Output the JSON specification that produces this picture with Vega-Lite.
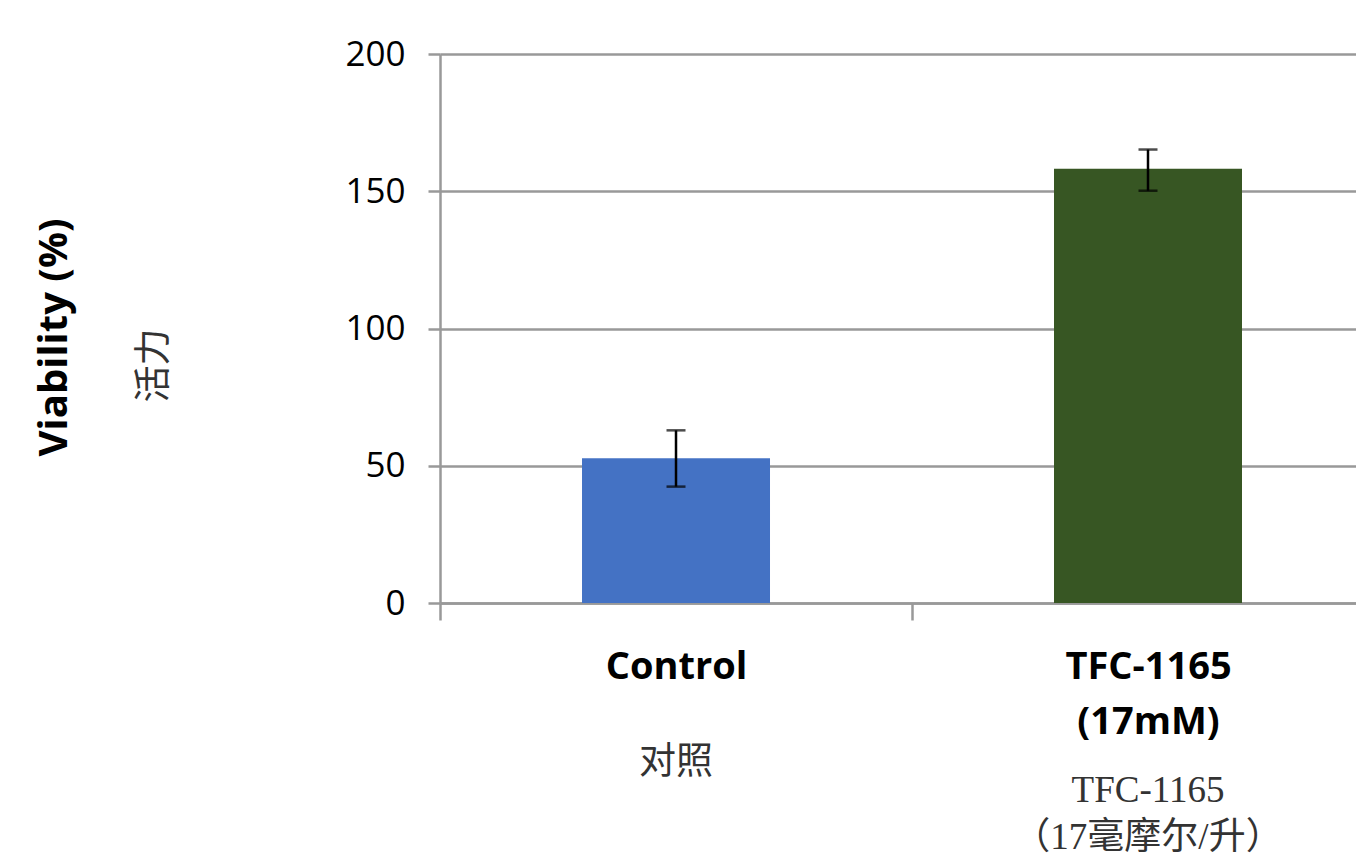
{
  "$schema": "https://vega.github.io/schema/vega-lite/v6.json",
  "width": 916,
  "height": 549,
  "autosize": "none",
  "padding": {"left": 440, "top": 54, "right": 0, "bottom": 251},
  "background": "white",
  "config": {"view": {"stroke": null}},
  "data": {
    "values": [
      {"group": "Control", "value": 52.7, "lo": 42.4, "hi": 62.9},
      {"group": "TFC-1165 (17mM)", "value": 158.2, "lo": 150.2, "hi": 165.2}
    ]
  },
  "encoding": {
    "x": {
      "field": "group",
      "type": "nominal",
      "sort": null,
      "scale": {"paddingInner": 0.6017, "paddingOuter": 0.2712, "align": 0.5547}
    }
  },
  "layer": [
    {
      "mark": {"type": "bar"},
      "encoding": {
        "x": {
          "field": "group",
          "type": "nominal",
          "sort": null,
          "axis": {
            "orient": "bottom",
            "title": null,
            "domainColor": "#999999",
            "domainWidth": 2.5,
            "tickOffset": -236,
            "labelOffset": 236,
            "tickColor": "#999999",
            "tickWidth": 2.5,
            "tickSize": 17,
            "labelFont": "Open Sans",
            "labelFontWeight": "bold",
            "labelFontSize": 38,
            "labelColor": "black",
            "labelPadding": 28,
            "labelAngle": 0,
            "labelLimit": 0,
            "labelLineHeight": 55,
            "labelExpr": "datum.value == 'Control' ? 'Control' : ['TFC-1165', '(17mM)']"
          }
        },
        "y": {
          "field": "value",
          "type": "quantitative",
          "scale": {"domain": [0, 200], "nice": false},
          "axis": {
            "orient": "left",
            "values": [0, 50, 100, 150, 200],
            "grid": true,
            "gridColor": "#999999",
            "gridWidth": 2.5,
            "domainColor": "#999999",
            "domainWidth": 2.5,
            "tickColor": "#999999",
            "tickWidth": 2.5,
            "tickSize": 12,
            "labelFont": "Open Sans",
            "labelFontSize": 35,
            "labelColor": "black",
            "labelPadding": 23,
            "title": "Viability (%)",
            "titleFont": "Open Sans",
            "titleFontSize": 40,
            "titleFontWeight": "bold",
            "titleColor": "black",
            "titleX": -366,
            "titleY": 283
          }
        },
        "color": {
          "field": "group",
          "type": "nominal",
          "scale": {"domain": ["Control", "TFC-1165 (17mM)"], "range": ["#4472c4", "#375623"]},
          "legend": null
        }
      }
    },
    {
      "mark": {"type": "rule", "color": "black", "strokeWidth": 2.5},
      "encoding": {
        "x": {
          "field": "group",
          "type": "nominal",
          "sort": null,
          "axis": {
            "orient": "bottom",
            "title": null,
            "domain": false,
            "ticks": false,
            "grid": false,
            "labelAngle": 0,
            "labelLimit": 0,
            "labelFont": "Noto Sans CJK SC",
            "labelFontSize": 37,
            "labelColor": "#333333",
            "labelPadding": 141,
            "labelExpr": "datum.value == 'Control' ? '对照' : ''"
          }
        },
        "y": {
          "field": "lo",
          "type": "quantitative",
          "axis": {
            "orient": "left",
            "title": "活力",
            "titleFont": "Noto Sans CJK SC",
            "titleFontSize": 37,
            "titleFontWeight": "normal",
            "titleColor": "#333333",
            "labels": false,
            "ticks": false,
            "domain": false,
            "grid": false,
            "titleX": -267,
            "titleY": 311
          }
        },
        "y2": {"field": "hi"}
      }
    },
    {
      "mark": {"type": "tick", "color": "black", "size": 19, "thickness": 2.5},
      "encoding": {
        "x": {
          "field": "group",
          "type": "nominal",
          "sort": null,
          "axis": {
            "orient": "bottom",
            "title": null,
            "domain": false,
            "ticks": false,
            "grid": false,
            "labelAngle": 0,
            "labelLimit": 0,
            "labelFont": "Liberation Serif, Noto Sans CJK SC",
            "labelFontSize": 37,
            "labelColor": "#333333",
            "labelPadding": 169,
            "labelLineHeight": 47,
            "labelExpr": "datum.value == 'Control' ? '' : ['TFC-1165', '（17毫摩尔/升）']"
          }
        },
        "y": {"field": "lo", "type": "quantitative", "axis": null}
      }
    },
    {
      "mark": {"type": "tick", "color": "black", "size": 19, "thickness": 2.5},
      "encoding": {
        "x": {"field": "group", "type": "nominal", "sort": null, "axis": null},
        "y": {"field": "hi", "type": "quantitative", "axis": null}
      }
    }
  ],
  "resolve": {"axis": {"x": "independent", "y": "independent"}}
}
